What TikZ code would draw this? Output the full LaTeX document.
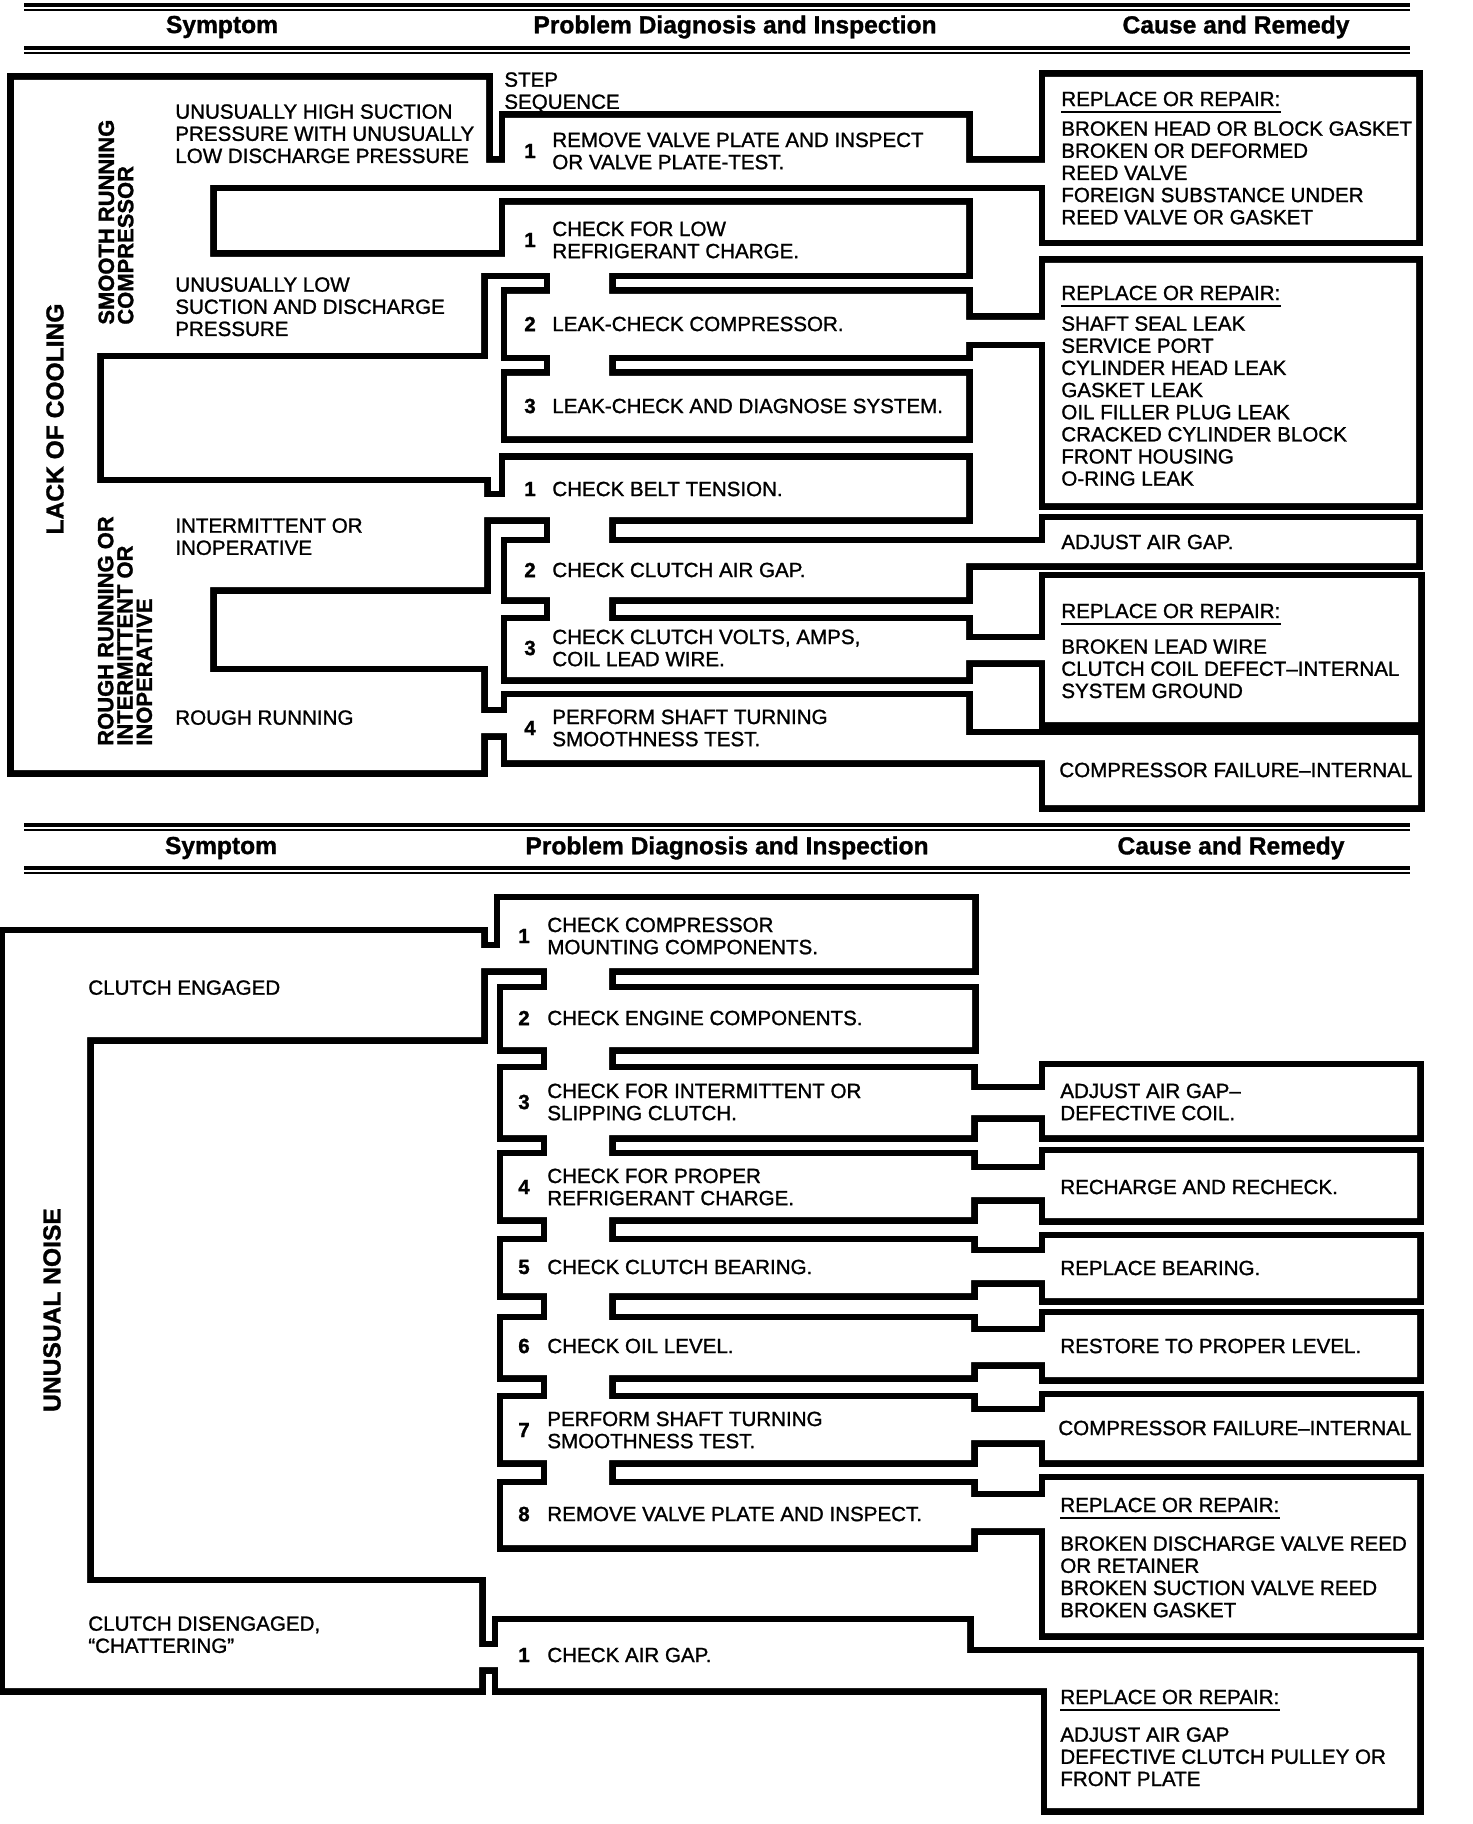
\documentclass[tikz,border=0pt]{standalone}
\usepackage{fontspec}
\setmainfont{Liberation Sans}[FakeBold=1.2]
\usepackage{tikz}

\newcommand{\boxfont}{\fontsize{11.7}{12.6}\selectfont}
\newcommand{\headfont}{\fontsize{14}{16}\selectfont\bfseries}
\newcommand{\sidefont}{\fontsize{12.5}{11}\selectfont\bfseries}
\newcommand{\bigsidefont}{\fontsize{14}{16}\selectfont\bfseries}

% pipes of the upper chart (lack of cooling)
\newcommand{\coolpipes}{
  (14,80) rectangle (97,770)
  (14,80) rectangle (210,353)
  (14,80) rectangle (486,185)
  (476,163) rectangle (515,185)
  (505,118) rectangle (966,185)
  (946,163) rectangle (1065,185)
  (1045,77) rectangle (1416,240)
  (97,257) rectangle (481,353)
  (471,257) rectangle (515,273)
  (505,205) rectangle (966,273)
  (550,260) rectangle (609,306)
  (507,294) rectangle (966,355)
  (946,320) rectangle (1065,342)
  (1045,263) rectangle (1416,503)
  (550,340) rectangle (609,388)
  (507,376) rectangle (966,436)
  (14,483) rectangle (210,770)
  (14,483) rectangle (484,587)
  (474,497) rectangle (515,517)
  (505,460) rectangle (966,517)
  (550,505) rectangle (609,555)
  (507,543) rectangle (966,597)
  (946,543) rectangle (1065,563)
  (1045,520) rectangle (1416,563)
  (550,585) rectangle (609,633)
  (507,621) rectangle (966,677)
  (946,640) rectangle (1065,660)
  (1045,578) rectangle (1418,722)
  (14,672) rectangle (481,770)
  (471,713) rectangle (517,733)
  (507,697) rectangle (966,760)
  (946,735) rectangle (1065,760)
  (1045,735) rectangle (1418,805)
}

% pipes of the lower chart (unusual noise)
\newcommand{\noisepipes}{
  (5,933) rectangle (87,1688)
  (5,933) rectangle (481,1037)
  (471,948) rectangle (510,968)
  (500,900) rectangle (972,968)
  (547,955) rectangle (609,1002)
  (503,990) rectangle (972,1047)
  (547,1035) rectangle (609,1082)
  (503,1070) rectangle (971,1135)
  (951,1090) rectangle (1065,1115)
  (1045,1067) rectangle (1417,1135)
  (547,1120) rectangle (609,1168)
  (503,1156) rectangle (971,1217)
  (951,1170) rectangle (1065,1197)
  (1045,1153) rectangle (1417,1218)
  (547,1205) rectangle (609,1254)
  (503,1242) rectangle (971,1293)
  (951,1253) rectangle (1065,1280)
  (1045,1238) rectangle (1417,1298)
  (547,1280) rectangle (609,1332)
  (503,1320) rectangle (971,1375)
  (951,1332) rectangle (1065,1362)
  (1045,1315) rectangle (1417,1377)
  (547,1362) rectangle (609,1411)
  (503,1399) rectangle (971,1460)
  (951,1412) rectangle (1065,1440)
  (1045,1397) rectangle (1417,1460)
  (547,1447) rectangle (609,1497)
  (503,1485) rectangle (971,1545)
  (951,1497) rectangle (1065,1528)
  (1045,1480) rectangle (1417,1633)
  (5,1583) rectangle (479,1688)
  (469,1647) rectangle (508,1667)
  (498,1622) rectangle (967,1688)
  (947,1653) rectangle (1417,1688)
  (1047,1653) rectangle (1417,1808)
}

\begin{document}
\begin{tikzpicture}[x=0.02cm, y=-0.02cm,
    pipe/.style={line width=7.4pt},
    hrule/.style={line width=1.8pt},
    thinrule/.style={line width=0.9pt},
    colhead/.style={font=\headfont, inner sep=0pt},
    symtext/.style={font=\boxfont, align=left, anchor=north west, inner sep=0pt},
    steptext/.style={font=\boxfont, align=left, anchor=west, inner sep=0pt},
    stepno/.style={font=\boxfont\bfseries, inner sep=0pt},
    fixtext/.style={font=\boxfont, align=left, anchor=west, inner sep=0pt},
    fixlist/.style={font=\boxfont, align=left, anchor=north west, inner sep=0pt},
    sidetext/.style={font=\sidefont, align=left, anchor=west, rotate=90, inner sep=0pt},
    bigside/.style={font=\bigsidefont, rotate=90, inner sep=0pt}]
  \useasboundingbox (0,0) rectangle (1472,1824);

  % outlines first, then the white insides wipe the inner borders
  \draw[pipe] \coolpipes;
  \draw[pipe] \noisepipes;
  \fill[white] \coolpipes;
  \fill[white] \noisepipes;

  % column heads, upper chart
  \draw[hrule] (24,5) -- (1410,5);
  \draw[thinrule] (24,10) -- (1410,10);
  \draw[hrule] (24,48) -- (1410,48);
  \draw[thinrule] (24,53) -- (1410,53);
  \node[colhead] (h1sym)   at (222,27)  {Symptom};
  \node[colhead] (h1diag)  at (735,27)  {Problem Diagnosis and Inspection};
  \node[colhead] (h1cause) at (1236,27) {Cause and Remedy};

  % symptoms
  \node[bigside]  (lack)   at (55,419)  {LACK OF COOLING};
  \node[sidetext] (smooth) at (116,325) {SMOOTH RUNNING\\COMPRESSOR};
  \node[sidetext] (rough)  at (125,746) {ROUGH RUNNING OR\\INTERMITTENT OR\\INOPERATIVE};
  \node[symtext] (high)     at (175,104) {UNUSUALLY HIGH SUCTION\\PRESSURE WITH UNUSUALLY\\LOW DISCHARGE PRESSURE};
  \node[symtext] (low)      at (175,277) {UNUSUALLY LOW\\SUCTION AND DISCHARGE\\PRESSURE};
  \node[symtext] (inter)    at (175,518) {INTERMITTENT OR\\INOPERATIVE};
  \node[symtext] (roughrun) at (175,710) {ROUGH RUNNING};
  \node[symtext] (stepseq)  at (504,72)  {STEP\\SEQUENCE};

  % steps
  \node[stepno] (n1a) at (530,151) {1};
  \node[steptext] (s1a) at (552,151) {REMOVE VALVE PLATE AND INSPECT\\OR VALVE PLATE-TEST.};
  \node[stepno] (n1b) at (530,240) {1};
  \node[steptext] (s1b) at (552,240) {CHECK FOR LOW\\REFRIGERANT CHARGE.};
  \node[stepno] (n2b) at (530,324) {2};
  \node[steptext] (s2b) at (552,324) {LEAK-CHECK COMPRESSOR.};
  \node[stepno] (n3b) at (530,406) {3};
  \node[steptext] (s3b) at (552,406) {LEAK-CHECK AND DIAGNOSE SYSTEM.};
  \node[stepno] (n1c) at (530,489) {1};
  \node[steptext] (s1c) at (552,489) {CHECK BELT TENSION.};
  \node[stepno] (n2c) at (530,570) {2};
  \node[steptext] (s2c) at (552,570) {CHECK CLUTCH AIR GAP.};
  \node[stepno] (n3c) at (530,648) {3};
  \node[steptext] (s3c) at (552,648) {CHECK CLUTCH VOLTS, AMPS,\\COIL LEAD WIRE.};
  \node[stepno] (n4c) at (530,728) {4};
  \node[steptext] (s4c) at (552,728) {PERFORM SHAFT TURNING\\SMOOTHNESS TEST.};

  % causes and remedies
  \node[fixtext] (rp1) at (1061,99) {REPLACE OR REPAIR:};
  \draw[thinrule] ([yshift=-3pt]rp1.south west) -- ([yshift=-3pt]rp1.south east);
  \node[fixlist] (rl1) at (1061,121) {BROKEN HEAD OR BLOCK GASKET\\BROKEN OR DEFORMED\\REED VALVE\\FOREIGN SUBSTANCE UNDER\\REED VALVE OR GASKET};
  \node[fixtext] (rp2) at (1061,293) {REPLACE OR REPAIR:};
  \draw[thinrule] ([yshift=-3pt]rp2.south west) -- ([yshift=-3pt]rp2.south east);
  \node[fixlist] (rl2) at (1061,316) {SHAFT SEAL LEAK\\SERVICE PORT\\CYLINDER HEAD LEAK\\GASKET LEAK\\OIL FILLER PLUG LEAK\\CRACKED CYLINDER BLOCK\\FRONT HOUSING\\O-RING LEAK};
  \node[fixtext] (fx1) at (1061,542) {ADJUST AIR GAP.};
  \node[fixtext] (rp3) at (1061,611) {REPLACE OR REPAIR:};
  \draw[thinrule] ([yshift=-3pt]rp3.south west) -- ([yshift=-3pt]rp3.south east);
  \node[fixlist] (rl3) at (1061,639) {BROKEN LEAD WIRE\\CLUTCH COIL DEFECT\textendash INTERNAL\\SYSTEM GROUND};
  \node[fixtext] (fx2) at (1059,770) {COMPRESSOR FAILURE\textendash INTERNAL};

  % column heads, lower chart
  \draw[hrule] (24,825) -- (1410,825);
  \draw[thinrule] (24,830) -- (1410,830);
  \draw[hrule] (24,868) -- (1410,868);
  \draw[thinrule] (24,873) -- (1410,873);
  \node[colhead] (h2sym)   at (221,848)  {Symptom};
  \node[colhead] (h2diag)  at (727,848)  {Problem Diagnosis and Inspection};
  \node[colhead] (h2cause) at (1231,848) {Cause and Remedy};

  \node[bigside] (noise)  at (52,1310) {UNUSUAL NOISE};
  \node[symtext] (engaged) at (88,980)  {CLUTCH ENGAGED};
  \node[symtext] (diseng)  at (88,1616) {CLUTCH DISENGAGED,\\``CHATTERING''};

  \node[stepno] (m1n) at (524,936) {1};
  \node[steptext] (m1) at (547,936) {CHECK COMPRESSOR\\MOUNTING COMPONENTS.};
  \node[stepno] (m2n) at (524,1018) {2};
  \node[steptext] (m2) at (547,1018) {CHECK ENGINE COMPONENTS.};
  \node[stepno] (m3n) at (524,1102) {3};
  \node[steptext] (m3) at (547,1102) {CHECK FOR INTERMITTENT OR\\SLIPPING CLUTCH.};
  \node[stepno] (m4n) at (524,1187) {4};
  \node[steptext] (m4) at (547,1187) {CHECK FOR PROPER\\REFRIGERANT CHARGE.};
  \node[stepno] (m5n) at (524,1267) {5};
  \node[steptext] (m5) at (547,1267) {CHECK CLUTCH BEARING.};
  \node[stepno] (m6n) at (524,1346) {6};
  \node[steptext] (m6) at (547,1346) {CHECK OIL LEVEL.};
  \node[stepno] (m7n) at (524,1430) {7};
  \node[steptext] (m7) at (547,1430) {PERFORM SHAFT TURNING\\SMOOTHNESS TEST.};
  \node[stepno] (m8n) at (524,1514) {8};
  \node[steptext] (m8) at (547,1514) {REMOVE VALVE PLATE AND INSPECT.};
  \node[stepno] (m9n) at (524,1655) {1};
  \node[steptext] (m9) at (547,1655) {CHECK AIR GAP.};

  \node[fixtext] (g1) at (1060,1102) {ADJUST AIR GAP\textendash\\DEFECTIVE COIL.};
  \node[fixtext] (g2) at (1060,1187) {RECHARGE AND RECHECK.};
  \node[fixtext] (g3) at (1060,1268) {REPLACE BEARING.};
  \node[fixtext] (g4) at (1060,1346) {RESTORE TO PROPER LEVEL.};
  \node[fixtext] (g5) at (1058,1428) {COMPRESSOR FAILURE\textendash INTERNAL};
  \node[fixtext] (rp4) at (1060,1505) {REPLACE OR REPAIR:};
  \draw[thinrule] ([yshift=-3pt]rp4.south west) -- ([yshift=-3pt]rp4.south east);
  \node[fixlist] (rl4) at (1060,1536) {BROKEN DISCHARGE VALVE REED\\OR RETAINER\\BROKEN SUCTION VALVE REED\\BROKEN GASKET};
  \node[fixtext] (rp5) at (1060,1697) {REPLACE OR REPAIR:};
  \draw[thinrule] ([yshift=-3pt]rp5.south west) -- ([yshift=-3pt]rp5.south east);
  \node[fixlist] (rl5) at (1060,1727) {ADJUST AIR GAP\\DEFECTIVE CLUTCH PULLEY OR\\FRONT PLATE};
\end{tikzpicture}
\end{document}
